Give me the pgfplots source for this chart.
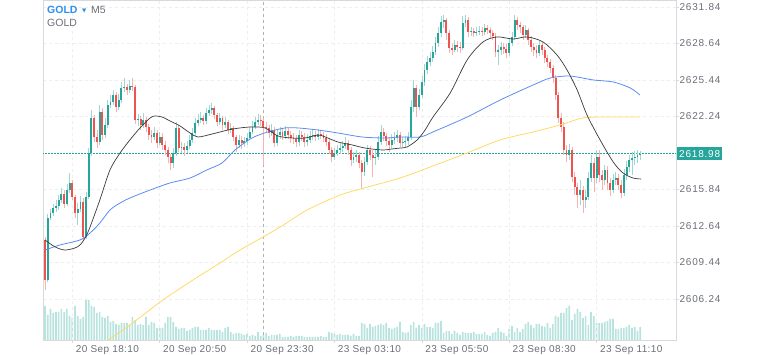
\documentclass[border=0pt]{standalone}
\usepackage{pgfplots}
\pgfplotsset{compat=1.18}
\usepackage{pgfplotstable}
\usepackage{fontspec}
\setmainfont{Liberation Sans}
\newfontfamily\tickfont[LetterSpace=8]{Liberation Sans}
\newfontfamily\xfont[LetterSpace=4]{Liberation Sans}
\newfontfamily\symfont{DejaVu Sans}
\definecolor{upg}{HTML}{26A69A}
\definecolor{dnr}{HTML}{EF5350}
\definecolor{upwick}{HTML}{9FD8D2}
\definecolor{downwick}{HTML}{F6B3B2}
\definecolor{vol}{HTML}{B9E3DF}
\definecolor{ma1}{HTML}{3A3A3A}
\definecolor{ma2}{HTML}{5B8CF0}
\definecolor{ma3}{HTML}{FFD966}
\definecolor{lab}{HTML}{6B6E78}
\definecolor{framec}{HTML}{D9D9D9}
\definecolor{gridc}{HTML}{EEEEEE}
\definecolor{sym}{HTML}{2F8FEF}
\definecolor{pline}{RGB}{38,166,154}
\pgfplotstableread{
i o h l c v
0 2611.41 2611.67 2607.03 2607.90 34
1 2607.90 2613.69 2607.73 2613.34 25
2 2613.34 2614.13 2613.16 2613.78 31
3 2613.78 2614.57 2613.51 2614.22 27
4 2614.22 2614.92 2613.87 2614.39 28
5 2614.39 2615.35 2614.04 2614.92 28
6 2614.92 2615.97 2614.65 2615.44 31
7 2615.44 2615.79 2614.22 2614.57 28
8 2614.57 2616.32 2614.39 2615.79 31
9 2615.79 2617.28 2615.53 2616.41 24
10 2616.41 2616.67 2614.92 2615.18 22
11 2615.18 2615.35 2613.34 2613.78 34
12 2613.78 2614.65 2612.72 2614.13 24
13 2614.13 2615.27 2613.87 2614.74 21
14 2614.74 2615.09 2611.32 2611.67 23
15 2611.67 2615.62 2611.50 2615.18 41
16 2615.18 2619.47 2615.00 2619.04 40
17 2619.04 2622.81 2618.77 2622.11 34
18 2622.11 2622.37 2620.00 2620.44 33
19 2620.44 2621.05 2619.47 2620.00 27
20 2620.00 2623.24 2619.74 2622.63 28
21 2622.63 2622.98 2620.18 2620.61 23
22 2620.61 2622.11 2620.35 2621.49 22
23 2621.49 2623.68 2621.23 2623.24 24
24 2623.24 2624.12 2622.98 2623.51 18
25 2623.51 2624.56 2623.24 2624.12 19
26 2624.12 2624.39 2622.63 2623.07 16
27 2623.07 2624.21 2622.81 2623.68 15
28 2623.68 2625.26 2623.42 2624.74 17
29 2624.74 2625.61 2624.39 2624.82 17
30 2624.82 2625.09 2624.12 2624.56 17
31 2624.56 2625.44 2624.30 2624.91 15
32 2624.91 2625.61 2624.47 2624.82 23
33 2624.82 2624.99 2621.58 2621.93 20
34 2621.93 2622.46 2621.40 2622.02 15
35 2622.02 2622.28 2621.05 2621.49 16
36 2621.49 2622.54 2621.23 2621.93 15
37 2621.93 2622.19 2620.88 2621.32 23
38 2621.32 2621.58 2620.18 2620.61 15
39 2620.61 2621.05 2619.91 2620.44 18
40 2620.44 2621.32 2620.18 2620.79 17
41 2620.79 2621.05 2619.47 2619.91 12
42 2619.91 2620.88 2619.74 2620.44 12
43 2620.44 2620.79 2619.30 2619.74 12
44 2619.74 2620.09 2618.86 2619.30 17
45 2619.30 2619.56 2618.16 2618.69 23
46 2618.69 2618.95 2617.55 2618.16 23
47 2618.16 2619.47 2617.72 2619.04 18
48 2619.04 2621.75 2618.77 2621.23 13
49 2621.23 2621.49 2619.12 2619.47 11
50 2619.47 2620.00 2619.04 2619.56 12
51 2619.56 2619.91 2618.77 2619.30 12
52 2619.30 2620.09 2619.04 2619.65 9
53 2619.65 2620.61 2619.39 2620.18 10
54 2620.18 2621.23 2619.91 2620.79 12
55 2620.79 2622.11 2620.53 2621.67 13
56 2621.67 2622.46 2621.40 2621.93 13
57 2621.93 2622.63 2621.67 2622.11 10
58 2622.11 2622.37 2621.49 2621.84 10
59 2621.84 2622.98 2621.58 2622.54 10
60 2622.54 2623.24 2622.28 2622.81 12
61 2622.81 2623.42 2622.46 2622.98 10
62 2622.98 2623.16 2622.02 2622.37 10
63 2622.37 2622.54 2621.40 2621.75 10
64 2621.75 2622.54 2621.49 2622.11 10
65 2622.11 2622.28 2621.05 2621.49 8
66 2621.49 2622.19 2621.23 2621.75 12
67 2621.75 2621.93 2620.70 2621.05 13
68 2621.05 2621.67 2620.79 2621.23 8
69 2621.23 2621.40 2620.09 2620.44 6
70 2620.44 2620.61 2619.12 2619.74 7
71 2619.74 2620.61 2619.47 2620.18 7
72 2620.18 2620.53 2619.39 2619.91 6
73 2619.91 2620.44 2619.56 2620.09 5
74 2620.09 2620.79 2619.74 2620.35 6
75 2620.35 2621.32 2620.18 2620.88 4
76 2620.88 2621.84 2620.70 2621.32 5
77 2621.32 2622.19 2621.14 2621.75 4
78 2621.75 2622.46 2621.49 2621.93 8
79 2621.93 2622.37 2621.40 2621.84 4
80 2621.84 2622.11 2617.98 2621.32 5
81 2621.32 2621.75 2620.79 2621.23 7
82 2621.23 2621.49 2620.35 2620.79 4
83 2620.79 2621.58 2620.53 2621.05 5
84 2621.05 2621.32 2619.56 2619.91 5
85 2619.91 2621.05 2619.65 2620.61 5
86 2620.61 2621.32 2620.26 2620.88 6
87 2620.88 2621.23 2620.18 2620.53 3
88 2620.53 2621.40 2620.26 2620.97 3
89 2620.97 2621.23 2620.26 2620.61 3
90 2620.61 2620.97 2619.91 2620.35 4
91 2620.35 2620.79 2619.82 2620.26 3
92 2620.26 2620.61 2619.56 2620.00 4
93 2620.00 2621.05 2619.65 2620.61 4
94 2620.61 2620.97 2620.09 2620.44 4
95 2620.44 2620.79 2619.56 2620.00 3
96 2620.00 2620.70 2619.65 2620.18 3
97 2620.18 2620.97 2619.91 2620.53 3
98 2620.53 2621.14 2620.18 2620.61 3
99 2620.61 2620.97 2620.09 2620.44 3
100 2620.44 2621.14 2620.18 2620.70 3
101 2620.70 2621.05 2620.26 2620.61 4
102 2620.61 2620.88 2620.00 2620.35 3
103 2620.35 2620.70 2619.65 2620.00 3
104 2620.00 2620.26 2618.95 2619.30 8
105 2619.30 2619.56 2618.25 2618.69 7
106 2618.69 2619.47 2618.42 2619.04 6
107 2619.04 2619.74 2618.77 2619.30 5
108 2619.30 2619.91 2618.95 2619.47 6
109 2619.47 2620.09 2619.12 2619.65 5
110 2619.65 2620.44 2619.39 2619.91 5
111 2619.91 2620.18 2618.86 2619.30 5
112 2619.30 2619.56 2617.90 2618.42 4
113 2618.42 2619.12 2618.16 2618.69 6
114 2618.69 2619.30 2618.25 2618.86 4
115 2618.86 2619.12 2617.72 2618.16 4
116 2618.16 2618.42 2615.97 2617.37 17
117 2617.37 2618.69 2617.02 2618.25 16
118 2618.25 2619.74 2617.98 2619.30 12
119 2619.30 2619.65 2618.42 2618.86 16
120 2618.86 2619.30 2616.93 2618.60 13
121 2618.60 2619.30 2617.98 2618.69 14
122 2618.69 2620.53 2618.42 2620.00 15
123 2620.00 2621.49 2619.74 2620.88 16
124 2620.88 2621.23 2620.09 2620.53 15
125 2620.53 2620.79 2619.65 2620.09 17
126 2620.09 2620.44 2619.12 2619.74 12
127 2619.74 2620.70 2619.47 2620.18 11
128 2620.18 2620.88 2619.82 2620.35 12
129 2620.35 2621.05 2620.00 2620.61 13
130 2620.61 2620.88 2619.56 2619.91 18
131 2619.91 2620.44 2619.47 2620.00 8
132 2620.00 2620.53 2619.56 2620.09 7
133 2620.09 2620.88 2619.74 2620.44 8
134 2620.44 2623.68 2620.18 2623.07 15
135 2623.07 2625.44 2622.63 2624.74 18
136 2624.74 2624.99 2622.19 2623.07 12
137 2623.07 2624.65 2622.81 2624.12 15
138 2624.12 2625.79 2623.86 2625.26 12
139 2625.26 2626.84 2624.91 2626.31 16
140 2626.31 2627.54 2625.96 2627.01 13
141 2627.01 2627.89 2626.66 2627.37 13
142 2627.37 2628.42 2627.01 2627.89 12
143 2627.89 2629.21 2627.63 2628.68 17
144 2628.68 2630.08 2628.33 2629.56 17
145 2629.56 2631.05 2629.21 2630.52 19
146 2630.52 2631.13 2630.00 2630.70 7
147 2630.70 2630.87 2628.94 2629.56 9
148 2629.56 2629.82 2627.80 2628.24 9
149 2628.24 2628.59 2627.63 2628.07 6
150 2628.07 2628.94 2627.89 2628.51 9
151 2628.51 2628.86 2627.89 2628.33 7
152 2628.33 2628.77 2627.80 2628.24 5
153 2628.24 2631.05 2628.07 2630.43 8
154 2630.43 2631.13 2630.08 2630.70 7
155 2630.70 2630.96 2629.21 2629.65 7
156 2629.65 2630.08 2629.30 2629.73 7
157 2629.73 2630.00 2629.21 2629.56 8
158 2629.56 2630.08 2629.30 2629.65 6
159 2629.65 2630.17 2629.38 2629.73 6
160 2629.73 2630.08 2629.30 2629.65 6
161 2629.65 2630.35 2629.38 2629.99 8
162 2629.99 2630.26 2629.47 2629.82 5
163 2629.82 2630.08 2629.12 2629.56 4
164 2629.56 2629.82 2628.94 2629.30 7
165 2629.30 2629.56 2627.45 2627.89 8
166 2627.89 2628.51 2626.75 2628.07 12
167 2628.07 2628.77 2627.63 2628.33 8
168 2628.33 2628.68 2627.72 2628.15 7
169 2628.15 2628.59 2627.37 2627.80 4
170 2627.80 2629.12 2627.54 2628.68 11
171 2628.68 2629.65 2628.42 2629.21 14
172 2629.21 2631.13 2628.94 2630.70 8
173 2630.70 2630.96 2629.82 2630.26 12
174 2630.26 2630.52 2629.56 2630.08 8
175 2630.08 2630.26 2628.94 2629.38 11
176 2629.38 2630.26 2629.12 2629.82 16
177 2629.82 2630.00 2628.51 2628.94 18
178 2628.94 2629.30 2627.89 2628.33 15
179 2628.33 2628.68 2627.54 2628.07 12
180 2628.07 2628.51 2627.37 2627.80 16
181 2627.80 2628.94 2627.54 2628.51 16
182 2628.51 2628.77 2627.63 2628.07 14
183 2628.07 2628.33 2626.93 2627.37 13
184 2627.37 2627.63 2626.58 2627.01 17
185 2627.01 2627.28 2626.05 2626.49 12
186 2626.49 2626.75 2625.17 2625.61 16
187 2625.61 2625.88 2623.68 2624.12 24
188 2624.12 2624.39 2621.67 2622.11 23
189 2622.11 2622.54 2620.88 2621.32 27
190 2621.32 2621.75 2618.86 2619.30 27
191 2619.30 2619.74 2618.25 2618.86 32
192 2618.86 2619.82 2618.42 2619.30 34
193 2619.30 2619.56 2616.49 2616.93 20
194 2616.93 2617.37 2615.35 2616.06 26
195 2616.06 2616.41 2614.22 2615.35 31
196 2615.35 2616.67 2614.48 2615.79 28
197 2615.79 2616.14 2613.78 2614.92 22
198 2614.92 2615.79 2614.22 2615.18 24
199 2615.18 2617.37 2614.92 2616.84 15
200 2616.84 2618.86 2616.49 2618.16 28
201 2618.16 2618.60 2615.62 2616.84 24
202 2616.84 2619.30 2616.41 2618.69 17
203 2618.69 2619.30 2616.49 2617.11 17
204 2617.11 2617.55 2615.79 2616.67 17
205 2616.67 2617.98 2616.23 2617.55 18
206 2617.55 2617.90 2615.79 2616.41 19
207 2616.41 2616.84 2615.27 2615.79 21
208 2615.79 2617.19 2615.53 2616.67 21
209 2616.67 2617.37 2616.23 2616.84 11
210 2616.84 2617.19 2615.79 2616.23 11
211 2616.23 2616.67 2615.09 2615.53 12
212 2615.53 2617.63 2615.27 2617.11 12
213 2617.11 2618.33 2616.67 2617.81 13
214 2617.81 2618.86 2617.37 2618.42 15
215 2618.42 2619.12 2617.11 2618.60 12
216 2618.60 2619.21 2617.98 2618.69 13
217 2618.69 2619.30 2618.16 2618.86 9
218 2618.86 2619.21 2618.42 2618.98 13
}\candles
\begin{document}
\begin{tikzpicture}
\useasboundingbox (0,0) rectangle (768pt,355pt);
% volume
\begin{axis}[at={(43pt,15pt)}, anchor=south west, scale only axis,
  width=633pt, height=340pt, xmin=-0.73, xmax=231.1, ymin=0, ymax=340, hide axis]
\addplot[ybar, bar width=1.7pt, fill=vol, draw=none] table[x=i, y=v]{\candles};
\end{axis}
% price
\begin{axis}[at={(43pt,15pt)}, anchor=south west, scale only axis,
  width=633pt, height=340pt,
  xmin=-0.73, xmax=231.1, ymin=2602.64, ymax=2632.45,
  axis line style={draw=framec, line width=0.8pt},
  xtick={10,42,74,106,138,170,202},
  xticklabels={20 Sep 18:10,20 Sep 20:50,20 Sep 23:30,23 Sep 03:10,23 Sep 05:50,23 Sep 08:30,23 Sep 11:10},
  ytick={2606.24,2609.44,2612.64,2615.84,2622.24,2625.44,2628.64,2631.84},
  yticklabels={2606.24,2609.44,2612.64,2615.84,2622.24,2625.44,2628.64,2631.84},
  xtick pos=left, ytick pos=right, yticklabel pos=right,
  tick align=outside, major tick length=3pt,
  tick style={draw=framec, line width=0.6pt},
  xmajorgrids, ymajorgrids,
  major grid style={draw=gridc, line width=0.6pt, dash pattern=on 3pt off 3pt},
  xticklabel style={font=\xfont\fontsize{10}{12}\selectfont, text=lab, anchor=west, yshift=-7pt},
  yticklabel style={font=\tickfont\fontsize{10}{12}\selectfont, text=lab, xshift=-3pt},
  clip mode=individual,
]
\addplot[draw=black!30, line width=0.7pt, dash pattern=on 3pt off 3pt, mark=none, forget plot] coordinates {(80,2602) (80,2633)};
\addplot[draw=pline, line width=1pt, dash pattern=on 1.5pt off 1.5pt, mark=none, forget plot] coordinates {(-1,2618.98) (231.1,2618.98)};
% wicks
\addplot[draw=none, mark=none, forget plot,
  restrict expr to domain={\thisrow{c}-\thisrow{o}}{0:100},
  error bars/.cd, y dir=both, y explicit, error mark=none,
  error bar style={draw=upwick, line width=0.6pt, solid}]
  table[x=i, y=c, y error plus expr=\thisrow{h}-\thisrow{c}, y error minus expr=\thisrow{c}-\thisrow{l}]{\candles};
\addplot[draw=none, mark=none, forget plot,
  restrict expr to domain={\thisrow{c}-\thisrow{o}}{-100:-0.0001},
  error bars/.cd, y dir=both, y explicit, error mark=none,
  error bar style={draw=downwick, line width=0.6pt, solid}]
  table[x=i, y=c, y error plus expr=\thisrow{h}-\thisrow{c}, y error minus expr=\thisrow{c}-\thisrow{l}]{\candles};
% bodies
\addplot[draw=none, mark=none, forget plot,
  restrict expr to domain={\thisrow{c}-\thisrow{o}}{0:100},
  error bars/.cd, y dir=minus, y explicit, error mark=none,
  error bar style={draw=upg, line width=1.9pt, solid}]
  table[x=i, y=c, y error minus expr=\thisrow{c}-\thisrow{o}]{\candles};
\addplot[draw=none, mark=none, forget plot,
  restrict expr to domain={\thisrow{c}-\thisrow{o}}{-100:-0.0001},
  error bars/.cd, y dir=minus, y explicit, error mark=none,
  error bar style={draw=dnr, line width=1.9pt, solid}]
  table[x=i, y=o, y error minus expr=\thisrow{o}-\thisrow{c}]{\candles};
% moving averages
\addplot[ma3, line width=0.8pt, smooth, mark=none] coordinates {
(20.1,2602.12) (31.1,2603.96) (43.2,2606.15) (54.2,2607.90) (64.1,2609.39) (71.4,2610.53) (79.9,2611.67) (87.9,2612.81) (96,2614.04) (108.1,2615.35) (118.3,2616.06) (130,2616.84) (142.1,2617.90) (154.6,2619.04) (166.7,2620.18) (178.8,2620.88) (188.6,2621.49) (197.1,2622.11) (205.9,2622.19) (218,2622.19)};
\addplot[ma2, line width=0.8pt, smooth, mark=none] coordinates {
(0,2610.53) (5.5,2610.97) (12.8,2611.41) (16.5,2612.02) (20.1,2612.90) (23.8,2614.04) (27.5,2614.65) (31.1,2615.09) (38.5,2615.79) (45.8,2616.41) (53.1,2616.84) (59.3,2617.55) (64.8,2618.16) (69.6,2619.30) (75.8,2620.35) (81.7,2620.88) (87.9,2621.23) (92.7,2621.23) (100,2621.05) (107.3,2620.79) (116.1,2620.44) (124.5,2620.35) (130,2620.44) (137.4,2620.44) (142.1,2620.88) (154.6,2622.19) (166.7,2623.68) (178.8,2625.00) (185,2625.61) (191.2,2625.79) (194.9,2625.70) (200.7,2625.44) (208.1,2625.26) (214.3,2624.74) (217.9,2624.12)};
\addplot[ma1, line width=0.7pt, smooth, mark=none] coordinates {
(0,2611.41) (3.7,2610.80) (7.3,2610.53) (11,2610.71) (12.8,2610.97) (14.7,2611.58) (16.5,2612.55) (20.1,2614.92) (23.8,2617.55) (27.5,2619.04) (31.1,2620.18) (34.8,2621.23) (38.5,2622.11) (40.3,2622.28) (42.9,2622.19) (45.8,2621.84) (49.5,2621.40) (53.1,2620.79) (56,2620.44) (61.2,2620.70) (67,2621.05) (71.4,2621.23) (75.8,2621.32) (80.6,2621.23) (85.3,2620.53) (90.5,2620.35) (95.2,2620.35) (100,2620.61) (102.6,2620.44) (107.3,2620.00) (112.5,2619.74) (117.2,2619.47) (123.4,2619.30) (127.1,2619.39) (130,2619.47) (132.6,2619.56) (136.3,2620.18) (139.2,2621.05) (142.1,2622.19) (148.4,2624.30) (154.6,2627.19) (160.4,2628.77) (165.6,2629.21) (171.4,2629.03) (176.6,2629.21) (182.4,2628.77) (187.5,2627.63) (191.2,2626.31) (194.9,2624.56) (198.5,2622.37) (203.3,2620.18) (208.1,2618.25) (211.7,2617.28) (215.4,2616.84) (218.3,2616.76)};
\end{axis}
% labels
\node[anchor=base west, inner sep=0, text=sym, font=\bfseries\fontsize{10.5}{12}\selectfont] at (47pt,341pt) {GOLD};
\node[anchor=base west, inner sep=0, text=sym, font=\symfont\fontsize{5.5}{7}\selectfont] at (82pt,342.5pt) {▼};
\node[anchor=base west, inner sep=0, text=lab, font=\fontsize{10.5}{12}\selectfont] at (91pt,341pt) {M5};
\node[anchor=base west, inner sep=0, text=lab, font=\fontsize{10.5}{12}\selectfont] at (47pt,328pt) {GOLD};
\node[fill=upg, text=white, anchor=west, inner xsep=2pt, inner ysep=0pt, minimum height=13pt, font=\tickfont\fontsize{10}{12}\selectfont] at (677pt,201.4pt) {2618.98};
\end{tikzpicture}
\end{document}
